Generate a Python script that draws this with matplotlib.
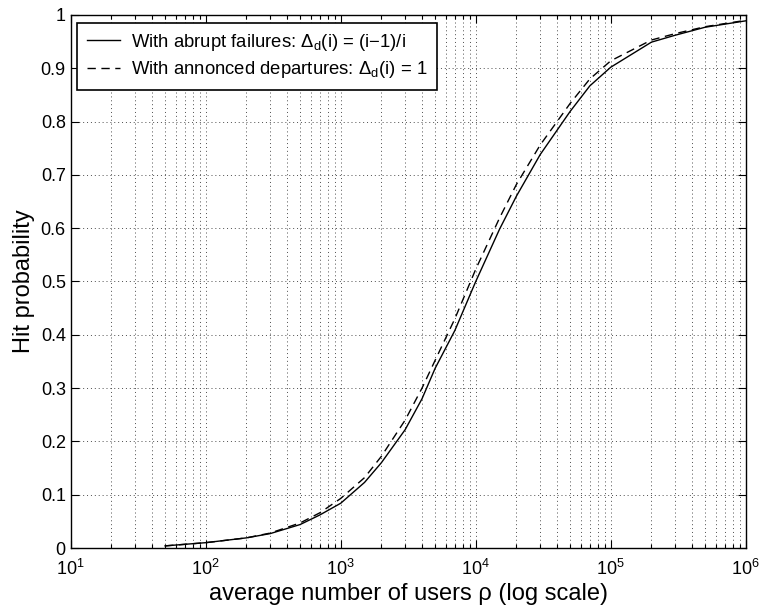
import numpy as np
import matplotlib
matplotlib.use('Agg')
import matplotlib.pyplot as plt
from matplotlib.ticker import LogLocator, NullFormatter

plt.rcParams['font.family'] = ['Liberation Sans', 'DejaVu Sans']
plt.rcParams['mathtext.fontset'] = 'custom'
plt.rcParams['mathtext.rm'] = 'Liberation Sans'
plt.rcParams['mathtext.it'] = 'Liberation Sans:italic'

# average number of users
rho = [50, 100, 200, 300, 500, 700, 1000, 1500, 2000, 3000, 4000, 5000, 7000,
       10000, 15000, 20000, 30000, 50000, 70000, 1e5, 2e5, 3e5, 5e5, 1e6]
# hit probability, abrupt failures
hit_abrupt = [0.004, 0.010, 0.019, 0.027, 0.044, 0.062, 0.084, 0.123, 0.160,
              0.222, 0.280, 0.337, 0.408, 0.500, 0.598, 0.660, 0.738, 0.819,
              0.867, 0.902, 0.949, 0.962, 0.977, 0.989]
# hit probability, announced departures
hit_announced = [0.004, 0.010, 0.019, 0.028, 0.047, 0.066, 0.093, 0.132, 0.172,
                 0.240, 0.300, 0.352, 0.430, 0.523, 0.619, 0.682, 0.756, 0.834,
                 0.880, 0.914, 0.953, 0.965, 0.978, 0.990]

y_ticks = [0, 0.1, 0.2, 0.3, 0.4, 0.5, 0.6, 0.7, 0.8, 0.9, 1]
y_tick_labels = ['0', '0.1', '0.2', '0.3', '0.4', '0.5', '0.6', '0.7', '0.8', '0.9', '1']

lab_abrupt = r'With abrupt failures: $\Delta_{\mathrm{d}}$(i) = (i' + '\u2212' + '1)/i'
lab_announced = r'With annonced departures: $\Delta_{\mathrm{d}}$(i) = 1'

fig = plt.figure(figsize=(7.62, 6.11), dpi=100)
ax = fig.add_axes([0.0928, 0.1031, 0.8859, 0.8724])

ax.plot(rho, hit_abrupt, 'k-', lw=1.0, label=lab_abrupt)
ax.plot(rho, hit_announced, 'k--', lw=1.0, dashes=(6, 4), label=lab_announced)

ax.set_xscale('log')
ax.set_xlim(10, 1e6)
ax.set_ylim(0, 1)
ax.xaxis.set_major_locator(LogLocator(base=10, numticks=10))
ax.xaxis.set_minor_locator(LogLocator(base=10, subs=np.arange(2, 10), numticks=20))
ax.xaxis.set_minor_formatter(NullFormatter())
ax.set_yticks(y_ticks)
ax.set_yticklabels(y_tick_labels)

grid_style = dict(ls=(0, (1, 3)), color='0.3', lw=0.7)
ax.grid(True, which='major', axis='both', **grid_style)
ax.grid(True, which='minor', axis='x', **grid_style)

ax.tick_params(which='both', direction='in', top=True, right=True, labelsize=13, width=0.8)
ax.tick_params(which='major', length=6)
ax.tick_params(which='minor', length=3)
ax.tick_params(axis='x', which='major', pad=8)
for s in ax.spines.values():
    s.set_linewidth(1.0)

ax.set_xlabel('average number of users \u03c1 (log scale)', fontsize=17, labelpad=3)
ax.set_ylabel('Hit probability', fontsize=17, labelpad=4)

leg = ax.legend(loc='upper left', bbox_to_anchor=(0.0098, 0.9856), borderaxespad=0,
                fontsize=13.3, fancybox=False, framealpha=1, edgecolor='k',
                handlelength=1.8, handletextpad=0.6, borderpad=0.5, labelspacing=0.35)
leg.get_frame().set_linewidth(1.2)

fig.savefig('out.png', dpi=100)
